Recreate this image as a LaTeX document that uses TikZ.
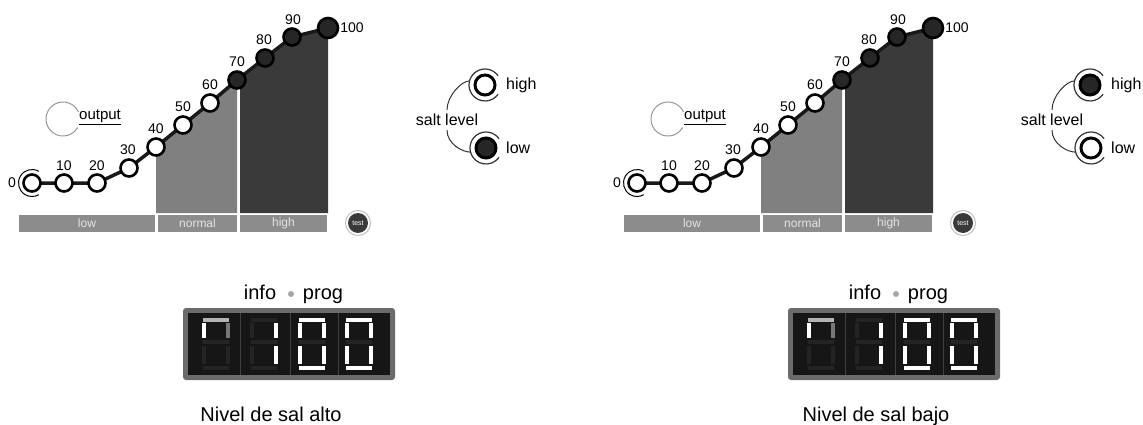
\documentclass[tikz,border=0pt]{standalone}
\usepackage{fontspec}
\setmainfont{Liberation Sans}
\usepackage{tikz}
\usetikzlibrary{backgrounds}
\definecolor{normgray}{RGB}{128,128,128}
\definecolor{highgray}{RGB}{58,58,58}
\definecolor{bargray}{RGB}{140,140,140}
\definecolor{bartext}{RGB}{228,228,228}
\definecolor{outgray}{RGB}{150,150,150}
\definecolor{framegray}{RGB}{107,107,107}
\definecolor{dispbg}{RGB}{22,22,22}
\definecolor{segoff}{RGB}{36,36,36}
\definecolor{segdim}{RGB}{120,120,120}
\definecolor{segmid}{RGB}{180,180,180}
\tikzset{
  dotw/.style={circle, draw=black, fill=white, line width=2.6pt,
    minimum size=17pt, inner sep=0pt},
  dotb/.style={dotw, fill=black!85},
  dotbig/.style={dotb, minimum size=20pt},
  num/.style={font=\fontsize{14pt}{16pt}\selectfont, inner sep=1pt},
  chainline/.style={line width=3.5pt, color=black!90},
  bar/.style={fill=bargray, text=bartext, minimum height=17pt, inner sep=0pt,
    font=\fontsize{12pt}{14pt}\selectfont},
  knoboff/.style={circle, draw=black, fill=white, line width=3pt,
    minimum size=20pt, inner sep=0pt},
  knobon/.style={knoboff, fill=black!85},
  ringn/.style={circle, minimum size=32pt, inner sep=0pt, outer sep=0pt},
  ring/.style={draw=black!80, line width=1.2pt},
  knobtxt/.style={font=\fontsize{16pt}{18pt}\selectfont, inner sep=1pt},
  ttl/.style={font=\fontsize{20pt}{22pt}\selectfont, inner sep=0pt},
  testbtn/.style={circle, fill=highgray, text=white, minimum size=20pt,
    inner sep=0pt, font=\fontsize{7pt}{8pt}\selectfont}
}

\begin{document}
\begin{tikzpicture}[x=1pt, y=-1pt]
  \useasboundingbox (0,0) rectangle (1143,425);
  \foreach \dx/\pfx/\hist/\lost/\capt in
    {0/L/knoboff/knobon/Nivel de sal alto, 605/R/knobon/knoboff/Nivel de sal bajo}{
  \begin{scope}[shift={(\dx,0)}, name prefix=\pfx-]
    % Level dots and their values
    \foreach \v/\x/\y/\st/\lx/\ly in {0/32/183/dotw/12/183, 10/64/183/dotw/64/166,
        20/97/183/dotw/97/166, 30/129/168/dotw/128/150, 40/156/147/dotw/156/129,
        50/183/125/dotw/183/107, 60/210/103/dotw/210/85, 70/237/80/dotb/237/62,
        80/265/58/dotb/264/40, 90/292/37/dotb/293/20, 100/328/28/dotbig/352/28}{
      \node[\st] (n\v) at (\x,\y) {};
      \node[num] (t\v) at (\lx,\ly) {\v};
    }
    \draw[black, line width=1pt] (n0.center) ++(60:13.5pt)
      arc[start angle=60, end angle=300, radius=13.5pt];

    % Areas under the curve
    \begin{scope}[on background layer]
      \fill[normgray] (n40.center) -- (n70.center) -- (237,213) -- (156,213) -- cycle;
      \fill[highgray] (240,77.6) -- (n80.center) -- (n90.center) -- (n100.center)
        -- (328,213) -- (240,213) -- cycle;
      \draw[chainline] (n0.center) \foreach \v in {10,20,...,100}{ -- (n\v.center)};
    \end{scope}

    % Range bars
    \node[bar, minimum width=136pt] (blow) at (87,223.5) {low};
    \node[bar, minimum width=79pt] (bnormal) at (197.5,223.5) {normal};
    \node[bar, minimum width=87pt] (bhigh) at (283.5,223.5) {high};
    \node[testbtn] (test) at (358,223) {test};
    \draw[black!25, line width=1pt] (test.center) circle[radius=12.5pt];

    % Output
    \coordinate (outc) at (63,119);
    \draw[outgray, line width=1pt] (outc) ++(25:17pt)
      arc[start angle=25, end angle=330, radius=17pt];
    \node[knobtxt, font=\fontsize{15pt}{17pt}\selectfont, anchor=west]
      (output) at (78,117) {\underline{output}};

    % Salt level
    \node[\hist] (hi) at (485,85) {};
    \node[\lost] (lo) at (486,148) {};
    \node[ringn] (hr) at (hi) {};
    \node[ringn] (lr) at (lo) {};
    \draw[ring] (hr.35) arc[start angle=35, end angle=325, radius=16pt];
    \draw[ring] (lr.35) arc[start angle=35, end angle=325, radius=16pt];
    \node[knobtxt, anchor=west] (thigh) at (505,85) {high};
    \node[knobtxt, anchor=west] (tlow) at (505,148) {low};
    \node[knobtxt, inner sep=4pt] (salt) at (447,120) {salt level};
    \draw[black!80, line width=1pt] (salt.north) .. controls +(0,-14) and +(-8,0) .. (hr.165);
    \draw[black!80, line width=1pt] (salt.south) .. controls +(0,14) and +(-8,0) .. (lr.195);

    % Display
    \node[ttl, anchor=base] (info) at (260,299) {info};
    \node[circle, fill=black!35, minimum size=6pt, inner sep=0pt] (sep) at (291,294) {};
    \node[ttl, anchor=base] (prog) at (323,299) {prog};
    \node[fill=framegray, rounded corners=3pt, minimum width=212pt,
      minimum height=72pt, inner sep=0pt] (disp) at (289,344) {};
    \node[fill=dispbg, minimum width=202pt, minimum height=62pt,
      inner sep=0pt] (dispin) at (289,344) {};
    \foreach \cx in {240,290,338}
      \draw[black!75, line width=1pt] (\cx,313) -- (\cx,375);
    \foreach \d in {202,250,298,345}{
      \begin{scope}[shift={(\d,318)}]
        \foreach \sx/\sy/\ex/\ey in {1/0/27/4, 0/5/4/20, 24/5/28/20, 1/22/27/26,
            0/28/4/46, 24/28/28/46, 1/48/27/52}
          \fill[segoff] (\sx,\sy) rectangle (\ex,\ey);
      \end{scope}
    }
    \begin{scope}[shift={(202,318)}]
      \fill[segmid] (1,0) rectangle (27,4);
      \fill[white] (0,5) rectangle (4,20);
      \fill[segdim] (24,5) rectangle (28,20);
    \end{scope}
    \begin{scope}[shift={(250,318)}]
      \fill[white] (24,5) rectangle (28,20);
      \fill[white] (24,28) rectangle (28,46);
    \end{scope}
    \foreach \d in {298,345}{
      \begin{scope}[shift={(\d,318)}]
        \foreach \sx/\sy/\ex/\ey in {1/0/27/4, 0/5/4/20, 24/5/28/20,
            0/28/4/46, 24/28/28/46, 1/48/27/52}
          \fill[white] (\sx,\sy) rectangle (\ex,\ey);
      \end{scope}
    }

    % Caption
    \node[ttl, anchor=base] (caption) at (271,421) {\capt};
  \end{scope}}
\end{tikzpicture}
\end{document}
